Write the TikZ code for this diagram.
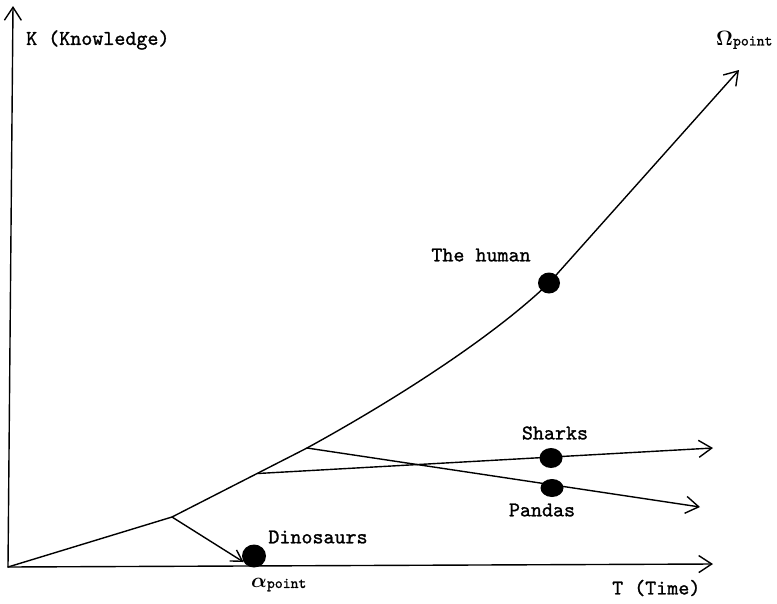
\documentclass[tikz,border=0pt]{standalone}
\usepackage[no-math]{fontspec}
\usepackage{bm}
\usepackage{tikz}
\usetikzlibrary{calc,arrows.meta,shapes.geometric}
\newfontfamily\lblfont[FakeBold=1.2]{lmmono10-regular.otf}

\begin{document}
\begin{tikzpicture}[x=1pt,y=-1pt]

	\tikzstyle{curve} = [draw, line width=1.4pt, line cap=round]
	\tikzstyle{arrow} = [curve, -{Straight Barb[length=13pt,width=17pt,line width=1.4pt]}]
	\tikzstyle{dot} = [ellipse, fill=black, inner sep=0pt, minimum width=22pt, minimum height=21pt]
	\tikzstyle{txt} = [font=\lblfont\fontsize{21}{24}\selectfont, inner sep=0pt]

	\useasboundingbox (0,0) rectangle (777,603);

	% axes
	\coordinate (O) at (8,567);
	\coordinate (kend) at (13,6);
	\coordinate (tend) at (713,564);
	\draw[arrow] (O) -- (kend);
	\draw[arrow] (O) -- (tend);
	\node[txt, anchor=west] (klbl) at (26,40) {K (Knowledge)};
	\node[txt, anchor=west] (tlbl) at (612,588) {T (Time)};

	% branch points
	\coordinate (b1) at (172,517);
	\coordinate (b3) at (307,448);
	\coordinate (b2) at ($(b1)!0.63!(b3)$);
	\coordinate (omega) at (739,70);
	\coordinate (sharkend) at (713,448);
	\coordinate (pandaend) at (700,507);

	% species
	\node[dot] (human) at (549,283) {};
	\node[dot, minimum width=23pt, minimum height=20pt] (shark) at (551,458) {};
	\node[dot, minimum width=23pt, minimum height=18pt] (panda) at (552,488) {};
	\node[dot, minimum width=24pt, minimum height=23pt] (dino) at (254,556) {};

	\draw[arrow] (O) -- (b1) -- (b3) .. controls (400,397) and (495,335) .. (human.center) -- (omega);
	\draw[arrow] (b2) -- (sharkend);
	\draw[arrow] (b3) -- (pandaend);
	\draw[curve, -{Straight Barb[length=11pt,width=13pt,line width=1.4pt]}] (b1) -- (dino.210);

	\node[txt] (humanlbl) at (481,255) {The human};
	\node[txt] (sharklbl) at (555,433) {Sharks};
	\node[txt] (pandalbl) at (542,510) {Pandas};
	\node[txt] (dinolbl) at (318,537) {Dinosaurs};

	% end points
	\node[anchor=west, inner sep=0pt] (omegalbl) at (716,40)
		{{\fontsize{20}{22}\selectfont$\mathbf{\Omega}$}{\lblfont\fontsize{15}{17}\selectfont point}};
	\node[anchor=west, inner sep=0pt] (alphalbl) at (251,585)
		{{\fontsize{22}{24}\selectfont$\bm{\alpha}$}{\lblfont\fontsize{15}{17}\selectfont point}};
\end{tikzpicture}
\end{document}
